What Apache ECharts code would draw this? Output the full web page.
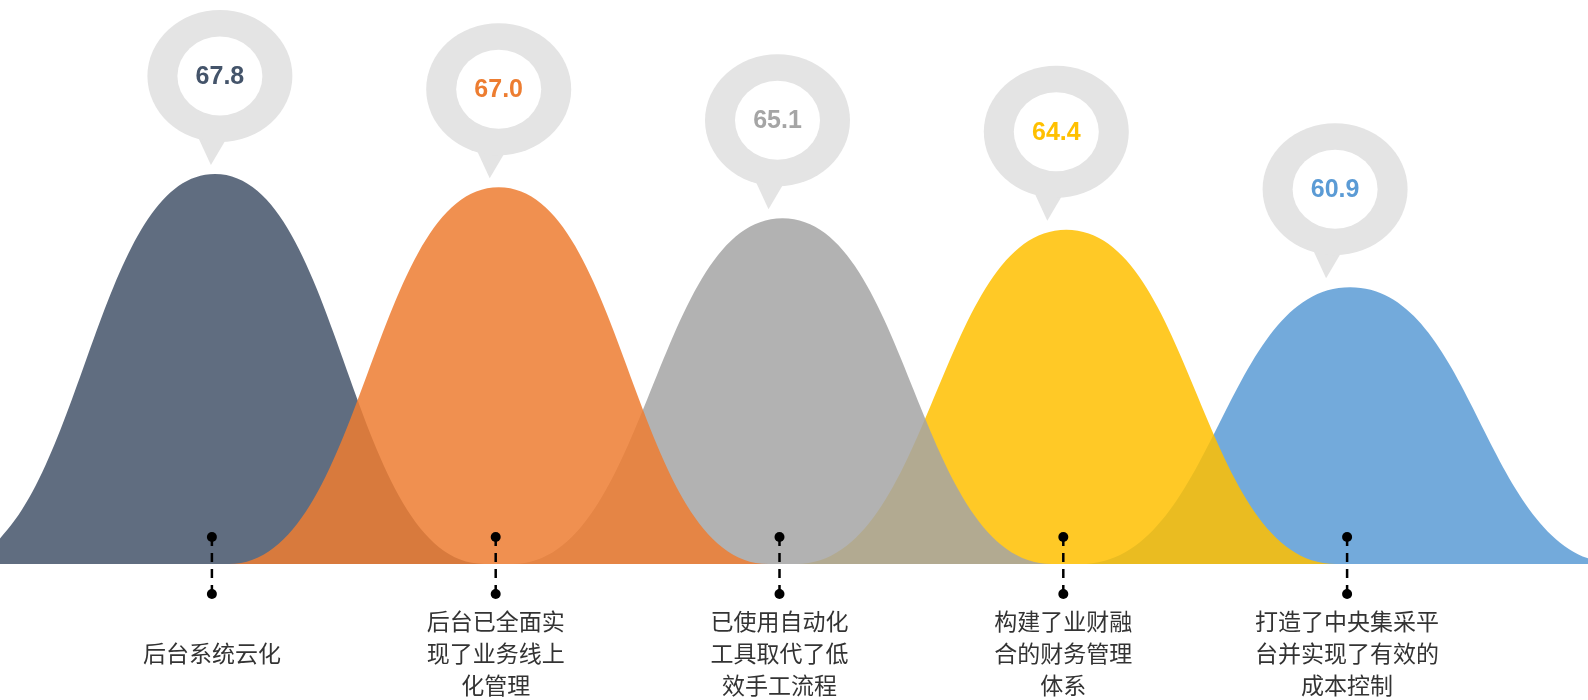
<!DOCTYPE html>
<html>
<head>
<meta charset="utf-8">
<script src="https://cdn.jsdelivr.net/npm/echarts@6/dist/echarts.min.js"></script>
<style>
  html, body { margin: 0; padding: 0; background: #ffffff; }
  #chart { width: 1588px; height: 700px; }
</style>
</head>
<body>
<div id="chart"></div>
<script>
// Categories (line breaks as they wrap under each peak)
const categories = [
  '后台系统云化',
  '后台已全面实\n现了业务线上\n化管理',
  '已使用自动化\n工具取代了低\n效手工流程',
  '构建了业财融\n合的财务管理\n体系',
  '打造了中央集采平\n台并实现了有效的\n成本控制'
];
// Score per category
const values = [67.8, 67.0, 65.1, 64.4, 60.9];
// Value axis range
const axisMin = 44;
const axisMax = 78;
// Theme colours
const colors = ['#44546a', '#ed7d31', '#a5a5a5', '#ffc000', '#5b9bd5'];
// Stacking order of the peaks, bottom to top
const layerOrder = [0, 4, 3, 2, 1];

const chart = echarts.init(document.getElementById('chart'));

const FONT_CJK = '"Noto Sans CJK SC", "Noto Sans", sans-serif';

// Bell-shaped peak built from two cubic Béziers
function bellPath(cx, topY, baseY, halfW) {
  const b = halfW * 0.47;
  const a = halfW * 0.50;
  return 'M' + (cx - halfW) + ' ' + baseY +
    ' C' + (cx - halfW + a) + ' ' + baseY + ' ' + (cx - b) + ' ' + topY + ' ' + cx + ' ' + topY +
    ' C' + (cx + b) + ' ' + topY + ' ' + (cx + halfW - a) + ' ' + baseY + ' ' + (cx + halfW) + ' ' + baseY +
    ' Z';
}

const option = {
  backgroundColor: '#ffffff',
  animation: false,
  grid: { left: 70, right: 99, top: 7, bottom: 136 },
  xAxis: {
    type: 'category',
    data: categories,
    boundaryGap: true,
    show: false
  },
  yAxis: {
    type: 'value',
    min: axisMin,
    max: axisMax,
    show: false
  },
  series: [
    {
      name: 'peaks',
      type: 'custom',
      clip: false,
      data: values.map((v, i) => [i, v]),
      renderItem: function (params, api) {
        const i = api.value(0);
        const top = api.coord([i, api.value(1)]);
        const base = api.coord([i, axisMin]);
        const band = api.size([1, 0])[0];
        const cx = top[0] + 3;
        return {
          type: 'path',
          z2: layerOrder.indexOf(i),
          shape: { pathData: bellPath(cx, top[1], base[1], band * 0.95) },
          style: { fill: colors[i], opacity: 0.85 }
        };
      }
    },
    {
      name: 'markers',
      type: 'custom',
      clip: false,
      z: 3,
      data: values.map((v, i) => [i, v]),
      renderItem: function (params, api) {
        const i = api.value(0);
        const base = api.coord([i, axisMin]);
        const x = base[0];
        const y0 = base[1] - 27;
        const y1 = base[1] + 30;
        return {
          type: 'group',
          children: [
            {
              type: 'line',
              shape: { x1: x, y1: y0, x2: x, y2: y1 },
              style: { stroke: '#000000', lineWidth: 2.5, lineDash: [9, 7] }
            },
            { type: 'circle', shape: { cx: x, cy: y0, r: 5 }, style: { fill: '#000000' } },
            { type: 'circle', shape: { cx: x, cy: y1, r: 5 }, style: { fill: '#000000' } },
            {
              type: 'text',
              style: {
                text: categories[i],
                x: x,
                y: base[1] + 89,
                align: 'center',
                verticalAlign: 'middle',
                fontSize: 23,
                lineHeight: 32,
                fontFamily: FONT_CJK,
                fill: '#333333'
              }
            }
          ]
        };
      }
    },
    {
      name: 'bubbles',
      type: 'custom',
      clip: false,
      z: 4,
      data: values.map((v, i) => [i, v]),
      renderItem: function (params, api) {
        const i = api.value(0);
        const v = api.value(1);
        const top = api.coord([i, v]);
        const cx = top[0] + 8 - i * 5;
        const tipY = top[1] - 9;
        const cy = tipY - 89;
        return {
          type: 'group',
          children: [
            {
              type: 'polygon',
              shape: { points: [[cx - 27, cy + 50], [cx + 14, cy + 50], [cx - 9, tipY]] },
              style: { fill: '#e4e4e4' }
            },
            {
              type: 'circle',
              x: cx, y: cy, scaleY: 66 / 72.5,
              shape: { cx: 0, cy: 0, r: 72.5 },
              style: { fill: '#e4e4e4' }
            },
            {
              type: 'circle',
              x: cx, y: cy, scaleY: 39.5 / 42.5,
              shape: { cx: 0, cy: 0, r: 42.5 },
              style: { fill: '#ffffff' }
            },
            {
              type: 'text',
              style: {
                text: v.toFixed(1),
                x: cx,
                y: cy + 1,
                align: 'center',
                verticalAlign: 'middle',
                fontSize: 25,
                fontWeight: 'bold',
                fontFamily: '"Liberation Sans", Arial, sans-serif',
                fill: colors[i]
              }
            }
          ]
        };
      }
    }
  ]
};

chart.setOption(option);
</script>
</body>
</html>
